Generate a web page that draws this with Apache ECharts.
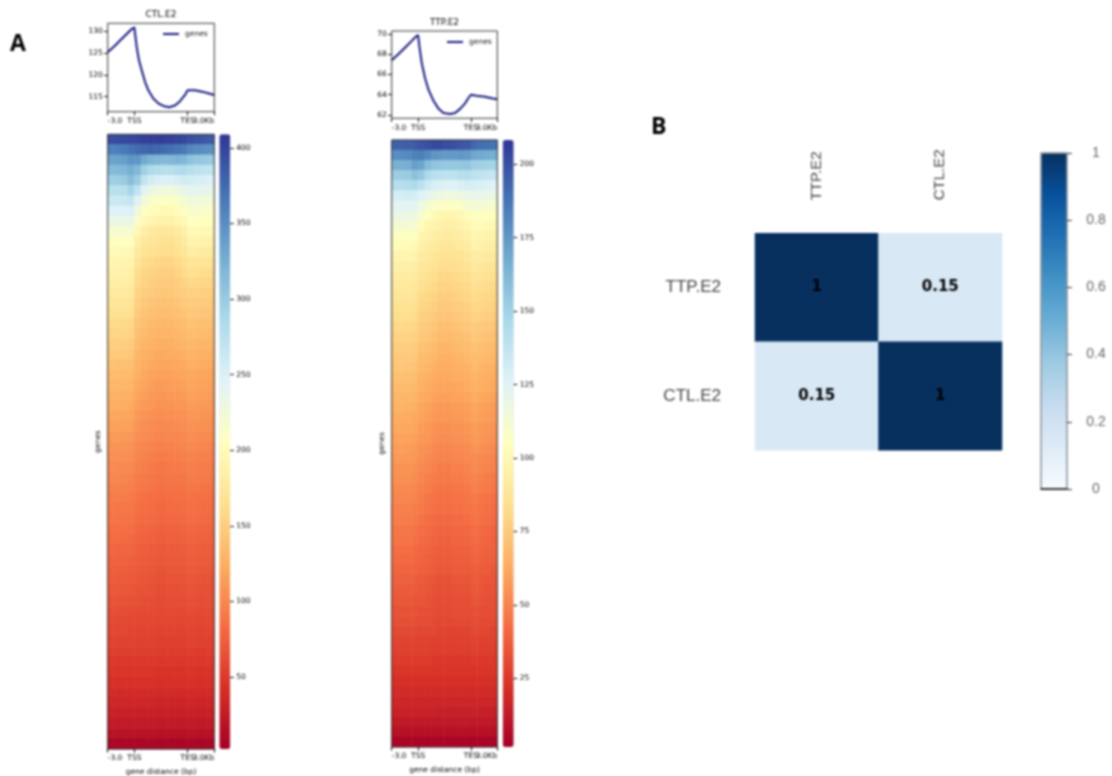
<!DOCTYPE html>
<html><head><meta charset="utf-8">
<style>html,body{margin:0;padding:0;background:#fff}#c{width:1112px;height:776px;filter:blur(0.9px)}</style>
<script src="https://cdn.jsdelivr.net/npm/echarts@6/dist/echarts.min.js"></script>
</head><body><div id="c"></div>
<script>
const tickKb=[-3,0,9];
const tickLabels=['-3.0','TSS','3.0Kb'];
const tesKb=[6];
const tesLabel='TES';
const ctlProfileX=[-3,-2.25,-1.5,-0.75,-0.3,0,0.1,0.26,0.52,0.83,1.2,1.57,2.14,2.7,3.26,3.9,4.57,5.14,5.7,6,6.82,7.76,8.5,9];
const ctlProfile=[125.1,126.5,128,129.5,130.4,130.76,129,126.4,123.3,121,118.4,116.5,114.6,113.5,112.9,112.6,113,114,115.4,116.5,116.5,116.1,115.7,115.4];
const ttpProfileX=[-3,-2.25,-1.5,-0.75,-0.3,0,0.15,0.42,0.8,1.18,1.75,2.3,2.88,3.64,4.2,4.77,5.34,5.7,6,6.65,7.6,8.35,9];
const ttpProfile=[67.4,68,68.65,69.3,69.7,69.9,68.75,67.1,65.6,64.5,63.4,62.65,62.2,62.1,62.2,62.6,63.15,63.65,64,63.9,63.8,63.65,63.55];
const ctlTicks=[115,120,125,130];
const ttpTicks=[62,64,66,68,70];
const ctlBarTicks=[50,100,150,200,250,300,350,400];
const ttpBarTicks=[25,50,75,100,125,150,175,200];
const corrLabels=['TTP.E2','CTL.E2'];
const corrValues=[[1,0.15],[0.15,1]];
const corrBarTicks=[0,0.2,0.4,0.6,0.8,1];
const ctlMatrix=[
[395,396,397,398,400,402,404,404,403,402,400,398,392,390,388,386],
[360,362,365,370,375,378,380,378,375,372,368,365,356,352,350,348],
[335,336,338,346,345,330,322,318,316,318,320,318,308,304,302,300],
[315,316,318,326,318,295,285,280,278,278,282,284,278,274,272,270],
[296,297,300,312,300,270,258,252,250,250,254,258,256,254,252,250],
[276,276,278,290,270,245,232,228,226,226,230,236,240,240,238,236],
[262,262,263,268,248,222,214,210,208,208,212,220,226,226,224,222],
[248,248,248,250,228,208,203,200,198,198,202,208,216,216,214,212],
[232,232,232,232,212,198,194,190,188,188,192,198,207,207,205,204],
[218,218,218,218,196,184,178,175,174,174,178,186,199,198,196,195],
[208,208,207,206,186,176,172,170,168,168,172,180,191,190,188,187],
[199,199,198,197,178,170,167,165,163,163,167,174,182,181,179,178],
[193,193,192,191,170,163,160,158,156,156,160,166,173,172,170,169],
[189,189,188,186,164,157,154,152,151,151,154,160,166,165,163,162],
[185,184,184,182,160,154,151,149,148,148,150,155,159,158,157,156],
[178,179,178,176,155,150,147,145,144,145,147,150,153,152,151,150],
[172,172,173,170,152,146,143,141,140,141,143,146,149,148,147,146],
[167,168,167,165,147,142,139,137,136,137,139,142,145,144,143,142],
[161,160,160,158,143,138,135,133,132,133,135,137,141,140,139,138],
[156,157,156,154,140,135,132,130,130,130,132,134,137,136,135,134],
[150,151,150,148,136,131,128,126,126,126,128,130,133,132,131,130],
[146,146,146,144,132,127,124,122,122,123,124,126,129,128,127,126],
[141,140,140,138,128,124,121,119,119,120,121,122,125,124,123,122],
[135,136,135,134,125,121,118,116,116,117,118,119,121,120,119,118],
[132,132,132,130,122,118,115,113,113,114,115,116,119,118,117,116],
[127,128,127,126,118,115,112,110,110,111,112,113,116,115,114,113],
[124,124,124,122,115,112,109,107,107,108,109,110,113,112,111,110],
[119,120,119,118,111,108,106,104,104,105,106,107,110,109,108,107],
[116,116,116,115,108,105,103,101,101,102,103,104,107,106,105,104],
[112,113,112,111,105,103,101,99,99,100,100,101,104,103,102,101],
[108,108,108,107,102,100,98,96,96,97,98,99,101,100,99,98],
[105,106,105,104,99,97,95,93,93,94,95,96,98,97,96,95],
[102,102,102,101,96,94,92,90,90,91,92,93,95,94,93,92],
[99,100,99,98,93,92,90,88,88,89,90,90,93,92,91,90],
[96,96,96,95,91,89,88,86,86,87,87,88,90,89,88,87],
[93,94,93,92,88,86,85,83,83,84,85,85,87,86,85,84],
[90,90,90,89,85,84,83,81,81,82,82,83,85,84,83,82],
[88,88,88,87,83,82,81,79,79,80,80,81,83,82,81,80],
[85,85,85,84,80,79,78,76,76,77,77,78,80,79,78,77],
[82,83,82,81,78,77,76,74,74,75,75,76,78,77,76,75],
[79,79,79,78,75,74,73,71,71,72,72,73,75,74,73,72],
[76,76,76,75,73,72,71,69,69,70,70,71,73,72,71,70],
[74,74,74,73,71,70,69,67,67,68,68,69,71,70,69,68],
[72,72,72,71,69,68,67,65,65,66,66,67,68,67,66,65],
[69,69,69,68,66,66,65,63,63,64,64,65,66,65,64,63],
[66,66,66,65,64,63,63,61,61,62,62,63,64,63,62,62],
[63,63,63,62,61,61,61,60,60,60,60,60,62,61,60,60],
[60,60,60,59,59,59,59,58,58,58,58,58,59,58,58,58],
[58,58,58,57,57,57,57,56,56,56,56,56,57,56,56,56],
[55,55,55,55,54,54,54,53,53,53,53,53,55,54,54,53],
[52,52,52,52,52,52,52,51,51,51,51,51,52,51,51,51],
[49,49,49,49,49,49,49,48,48,48,48,48,49,48,48,48],
[46,46,46,46,46,46,46,45,45,45,45,45,46,45,45,45],
[43,43,43,43,43,43,43,42,42,42,42,42,43,42,42,42],
[39,39,39,39,39,39,39,38,38,38,38,38,39,38,38,38],
[35,35,35,35,35,35,35,34,34,34,34,34,35,34,34,34],
[30,30,30,30,30,30,30,29,29,29,29,29,30,29,29,29],
[25,25,25,25,25,25,25,24,24,24,24,24,25,24,24,24],
[18,18,18,18,18,18,18,17,17,17,17,17,18,17,17,17],
[8,8,8,8,8,8,8,7,7,7,7,7,8,7,7,7]
];
const ttpMatrix=[
[194,194,195,196,198,200,202,202,201,200,198,197,192,190,189,188],
[178,179,180,183,184,180,176,175,174,174,175,174,169,168,167,166],
[165,165,166,172,170,160,156,155,154,154,155,156,151,150,149,148],
[152,152,153,158,154,145,141,140,139,139,141,142,139,138,137,136],
[142,142,143,145,140,133,129,127,126,126,128,130,129,128,127,126],
[130,130,131,130,126,122,119,117,116,116,118,120,121,120,119,118],
[124,124,124,123,116,112,109,107,106,106,108,111,113,112,111,110],
[118,118,118,117,110,104,101,99,98,98,100,103,107,106,105,104],
[112,112,112,111,103,99,97,95,94,94,96,99,103,102,101,100],
[106,106,106,105,98,96,94,92,91,92,93,95,99,98,97,96],
[102,102,102,101,95,93,91,89,88,89,90,92,96,95,94,93],
[98,98,98,97,92,90,88,86,86,86,87,89,93,92,91,90],
[95,95,95,94,89,88,86,84,84,84,85,86,90,89,88,87],
[92,92,92,91,87,85,83,81,81,82,83,84,87,86,85,84],
[90,90,90,89,85,83,81,79,79,80,81,82,85,84,83,82],
[88,88,88,87,82,81,79,77,77,78,79,80,83,82,81,80],
[86,86,86,85,80,79,77,75,75,76,77,78,81,80,79,78],
[84,84,84,83,78,77,75,73,73,74,75,76,79,78,77,76],
[81,82,81,80,76,75,73,71,71,72,73,74,76,75,74,73],
[79,79,79,78,74,73,71,69,69,70,71,72,74,73,72,71],
[77,77,77,76,72,71,69,67,67,68,69,70,72,71,70,69],
[75,75,75,74,70,69,67,65,65,66,67,68,70,69,68,67],
[73,74,73,72,68,67,65,63,63,64,65,66,68,67,66,65],
[71,71,71,70,66,65,63,62,62,63,63,64,66,65,64,63],
[69,69,69,68,65,63,62,61,61,61,62,63,65,64,63,62],
[67,67,67,66,63,62,60,59,59,60,60,61,63,62,61,60],
[65,66,65,64,61,60,58,57,57,58,58,59,61,60,59,58],
[63,63,63,62,60,59,57,56,56,57,57,58,60,59,58,57],
[62,62,62,61,58,57,55,54,54,55,55,56,58,57,56,55],
[60,60,60,59,57,56,54,53,53,54,54,55,57,56,55,54],
[58,59,58,57,55,54,52,51,51,52,52,53,55,54,53,52],
[57,57,57,56,54,52,51,50,50,51,51,52,53,52,51,50],
[55,55,55,54,52,51,49,48,48,49,49,50,52,51,50,49],
[54,54,54,53,51,49,48,47,47,48,48,49,50,49,48,47],
[52,52,52,51,49,48,46,45,45,46,46,47,49,48,47,46],
[51,51,51,50,48,46,45,44,44,45,45,46,47,46,45,44],
[49,49,49,48,47,45,44,43,43,44,44,45,46,45,44,43],
[48,48,48,47,45,43,42,41,41,42,42,43,45,44,43,42],
[46,46,46,45,43,42,41,40,40,41,41,41,43,42,41,40],
[45,45,45,44,42,41,40,39,39,40,40,40,42,41,40,39],
[43,43,43,42,41,40,39,38,38,39,39,39,41,40,39,39],
[42,42,42,41,40,39,38,37,37,38,38,38,40,39,38,38],
[40,40,40,40,39,38,37,36,36,37,37,37,38,37,37,36],
[39,39,39,38,37,36,35,34,34,35,35,35,37,36,35,35],
[37,37,37,37,36,35,34,33,33,34,34,34,36,35,34,34],
[36,36,36,35,35,34,33,32,32,33,33,33,35,34,33,33],
[34,34,34,34,33,33,32,31,31,32,32,32,33,32,32,32],
[33,33,33,33,32,32,31,30,30,31,31,31,32,31,31,31],
[31,31,31,31,30,30,30,29,29,29,29,29,31,30,30,29],
[29,29,29,29,29,29,28,28,28,28,28,28,29,28,28,28],
[28,28,28,28,28,28,27,27,27,27,27,27,28,27,27,27],
[26,26,26,26,26,26,25,25,25,25,25,25,26,25,25,25],
[24,24,24,24,24,24,24,24,24,24,24,24,24,24,24,24],
[22,22,22,22,22,22,22,22,22,22,22,22,22,22,22,22],
[20,20,20,20,20,20,20,20,20,20,20,20,20,20,20,20],
[18,18,18,18,18,18,18,18,18,18,18,18,18,18,18,18],
[16,16,16,16,16,16,16,15,15,15,15,15,16,15,15,15],
[13,13,13,13,13,13,13,13,13,13,13,13,13,13,13,13],
[9,9,9,9,9,9,9,9,9,9,9,9,9,9,9,9],
[4,4,4,4,4,4,4,4,4,4,4,4,4,4,4,4]
];

const RDYLBU=['#a50026','#d73027','#f46d43','#fdae61','#fee090','#ffffbf','#e0f3f8','#abd9e9','#74add1','#4575b4','#313695'];
const BLUES=['#f7fbff','#deebf7','#c6dbef','#9ecae1','#6baed6','#4292c6','#2171b5','#08519c','#07305f'];
const MONO='DejaVu Sans', TXT='#000', FRAME='#333';
const grids=[],xAxes=[],yAxes=[],series=[],visualMaps=[],titles=[],legends=[];
const frame=(l,t,w,h)=>({left:l,top:t,width:w,height:h,show:true,backgroundColor:'transparent',borderColor:FRAME,borderWidth:1,z:5,containLabel:false,outerBoundsMode:'none'});
const lbl=(extra)=>Object.assign({color:TXT,fontFamily:MONO,fontSize:7.5},extra||{});
function addKbAxes(gi,name){
  const idx=xAxes.length;
  xAxes.push({type:'value',gridIndex:gi,min:-3,max:9,position:'bottom',name:name||'',nameLocation:'middle',nameGap:19,
    nameTextStyle:{color:TXT,fontFamily:MONO,fontSize:7.5},
    axisLine:{show:false,onZero:false},splitLine:{show:false},
    axisTick:{show:true,length:3.5,lineStyle:{color:'#000'},customValues:tickKb},
    axisLabel:Object.assign(lbl(),{margin:5.5,hideOverlap:false,showMinLabel:true,showMaxLabel:true,customValues:tickKb,alignMinLabel:'left',alignMaxLabel:'right',
      formatter:v=>tickLabels[tickKb.indexOf(v)]}),z:6});
  xAxes.push({type:'value',gridIndex:gi,min:-3,max:9,position:'bottom',
    axisLine:{show:false,onZero:false},splitLine:{show:false},
    axisTick:{show:true,length:3.5,lineStyle:{color:'#000'},customValues:tesKb},
    axisLabel:Object.assign(lbl(),{margin:5.5,hideOverlap:false,showMinLabel:true,showMaxLabel:true,customValues:tesKb,alignMinLabel:'center',alignMaxLabel:'center',
      formatter:()=>tesLabel}),z:6});
  return idx;
}
function panel(o){
  // profile
  let gi=grids.length;
  grids.push(frame(o.left,o.pTop,o.w,o.pH));
  const px=addKbAxes(gi);
  yAxes.push({type:'value',gridIndex:gi,min:o.pMin,max:o.pMax,axisLine:{show:false,onZero:false},splitLine:{show:false},
    axisTick:{show:true,length:3.5,lineStyle:{color:'#000'},customValues:o.pTicks},
    axisLabel:Object.assign(lbl(),{margin:5,customValues:o.pTicks}),z:6});
  series.push({type:'line',name:'genes',xAxisIndex:px,yAxisIndex:yAxes.length-1,showSymbol:false,
    lineStyle:{color:'#16187e',width:2},itemStyle:{color:'#16187e'},data:o.px.map((x,i)=>[x,o.py[i]])});
  titles.push({text:o.title,left:o.left+o.w/2,top:o.pTop-13,textAlign:'center',padding:0,textStyle:{color:TXT,fontFamily:MONO,fontSize:9,fontWeight:'normal'}});
  legends.push({data:['genes'],left:o.legX,top:o.legY,padding:0,icon:'rect',itemWidth:16,itemHeight:2,itemGap:0,selectedMode:false,
    textStyle:{color:'#111',fontFamily:MONO,fontSize:7.5,padding:[0,0,0,1]}});
  // heat
  gi=grids.length;
  grids.push(frame(o.left,o.hTop,o.w,o.hH));
  const cols=o.m[0].map((_,i)=>i), rows=o.m.map((_,i)=>i), data=[];
  o.m.forEach((r,y)=>r.forEach((v,x)=>data.push([x,y,v])));
  const cx=xAxes.length, cy=yAxes.length;
  xAxes.push({type:'category',gridIndex:gi,data:cols,show:false});
  addKbAxes(gi,'gene distance (bp)');
  yAxes.push({type:'category',gridIndex:gi,data:rows,inverse:true,name:'genes',nameLocation:'middle',nameGap:5.5,
    nameTextStyle:{color:TXT,fontFamily:MONO,fontSize:7.5},axisLine:{show:false,onZero:false},axisTick:{show:false},axisLabel:{show:false},splitLine:{show:false}});
  series.push({type:'heatmap',xAxisIndex:cx,yAxisIndex:cy,data:data,progressive:0,emphasis:{disabled:true},itemStyle:{borderWidth:0}});
  visualMaps.push({type:'continuous',seriesIndex:series.length-1,min:o.vMin,max:o.vMax,inRange:{color:RDYLBU},borderRadius:0,
    left:o.barL,top:o.hTop,itemWidth:11,itemHeight:o.hH,padding:0,text:['',''],calculable:false,hoverLink:false,show:true,z:1,textStyle:{fontSize:1,color:'transparent'}});
  // colour bar axis
  gi=grids.length;
  grids.push({left:o.barL,top:o.hTop,width:11,height:o.hH,show:false,outerBoundsMode:'none'});
  xAxes.push({type:'value',gridIndex:gi,min:0,max:1,show:false});
  yAxes.push({type:'value',gridIndex:gi,position:'right',min:o.vMin,max:o.vMax,axisLine:{show:false,onZero:false},splitLine:{show:false},
    axisTick:{show:true,length:3.5,lineStyle:{color:'#000'},customValues:o.barTicks},
    axisLabel:Object.assign(lbl(),{margin:6,customValues:o.barTicks}),z:6});
}
panel({title:'CTL.E2',left:107.7,w:106.6,pTop:23.3,pH:88.4,pMin:111.6,pMax:131.7,pTicks:ctlTicks,px:ctlProfileX,py:ctlProfile,
  legX:163,legY:30,hTop:134.3,hH:614.7,m:ctlMatrix,vMin:2.3,vMax:409,barL:219.3,barTicks:ctlBarTicks});
panel({title:'TTP.E2',left:391.7,w:105.6,pTop:31,pH:87.3,pMin:61.67,pMax:70.3,pTicks:ttpTicks,px:ttpProfileX,py:ttpProfile,
  legX:447,legY:38,hTop:140,hH:607,m:ttpMatrix,vMin:1.7,vMax:208.2,barL:502.7,barTicks:ttpBarTicks});

// panel B
let gi=grids.length;
grids.push({left:755,top:233.3,width:247,height:217,show:false,outerBoundsMode:'none'});
const corrData=[];
corrValues.forEach((r,y)=>r.forEach((v,x)=>corrData.push([x,y,v])));
xAxes.push({type:'category',gridIndex:gi,position:'top',data:corrLabels,axisLine:{show:false,onZero:false},axisTick:{show:false},
  axisLabel:{rotate:-90,margin:33,color:'#444',fontFamily:'Liberation Sans',fontSize:15}});
yAxes.push({type:'category',gridIndex:gi,inverse:true,data:corrLabels,axisLine:{show:false,onZero:false},axisTick:{show:false},
  axisLabel:{margin:34,color:'#444',fontFamily:'Liberation Sans',fontSize:17}});
series.push({type:'heatmap',xAxisIndex:xAxes.length-1,yAxisIndex:yAxes.length-1,data:corrData,progressive:0,emphasis:{disabled:true},
  label:{show:true,color:'#000',fontFamily:'DejaVu Sans',fontWeight:'bold',fontSize:15,formatter:p=>String(p.value[2])}});
visualMaps.push({type:'continuous',seriesIndex:series.length-1,min:0,max:1,inRange:{color:BLUES},left:1041,top:153,itemWidth:26,itemHeight:336,borderRadius:0,
  padding:0,text:['',''],calculable:false,hoverLink:false,show:true,z:1,textStyle:{fontSize:1,color:'transparent'}});
gi=grids.length;
grids.push({left:1041,top:153,width:26,height:336,show:true,backgroundColor:'transparent',borderColor:'#8a9299',borderWidth:1.5,z:5,outerBoundsMode:'none'});
xAxes.push({type:'value',gridIndex:gi,min:0,max:1,show:true,axisLine:{show:true,onZero:false,lineStyle:{color:'#111',width:1.5}},axisTick:{show:false},axisLabel:{show:false},splitLine:{show:false},z:6});
yAxes.push({type:'value',gridIndex:gi,position:'right',min:0,max:1,interval:0.2,axisLine:{show:false,onZero:false},splitLine:{show:false},
  axisTick:{show:true,length:5,lineStyle:{color:'#333'},customValues:corrBarTicks},
  axisLabel:{margin:29,align:'center',color:'#666',fontFamily:'Liberation Sans',fontSize:14,customValues:corrBarTicks,formatter:v=>String(+v.toFixed(1))},z:6});

const chart=echarts.init(document.getElementById('c'),null,{renderer:'canvas',width:1112,height:776});
chart.setOption({animation:false,backgroundColor:'#fff',title:titles,legend:legends,grid:grids,xAxis:xAxes,yAxis:yAxes,visualMap:visualMaps,series:series,
  graphic:[
    {type:'text',left:10,top:33,style:{text:'A',fill:'#000',font:'bold 23px "Open Sans"'}},
    {type:'text',left:651,top:116,style:{text:'B',fill:'#000',font:'bold 23px "Open Sans"'}}
  ]});
</script></body></html>
